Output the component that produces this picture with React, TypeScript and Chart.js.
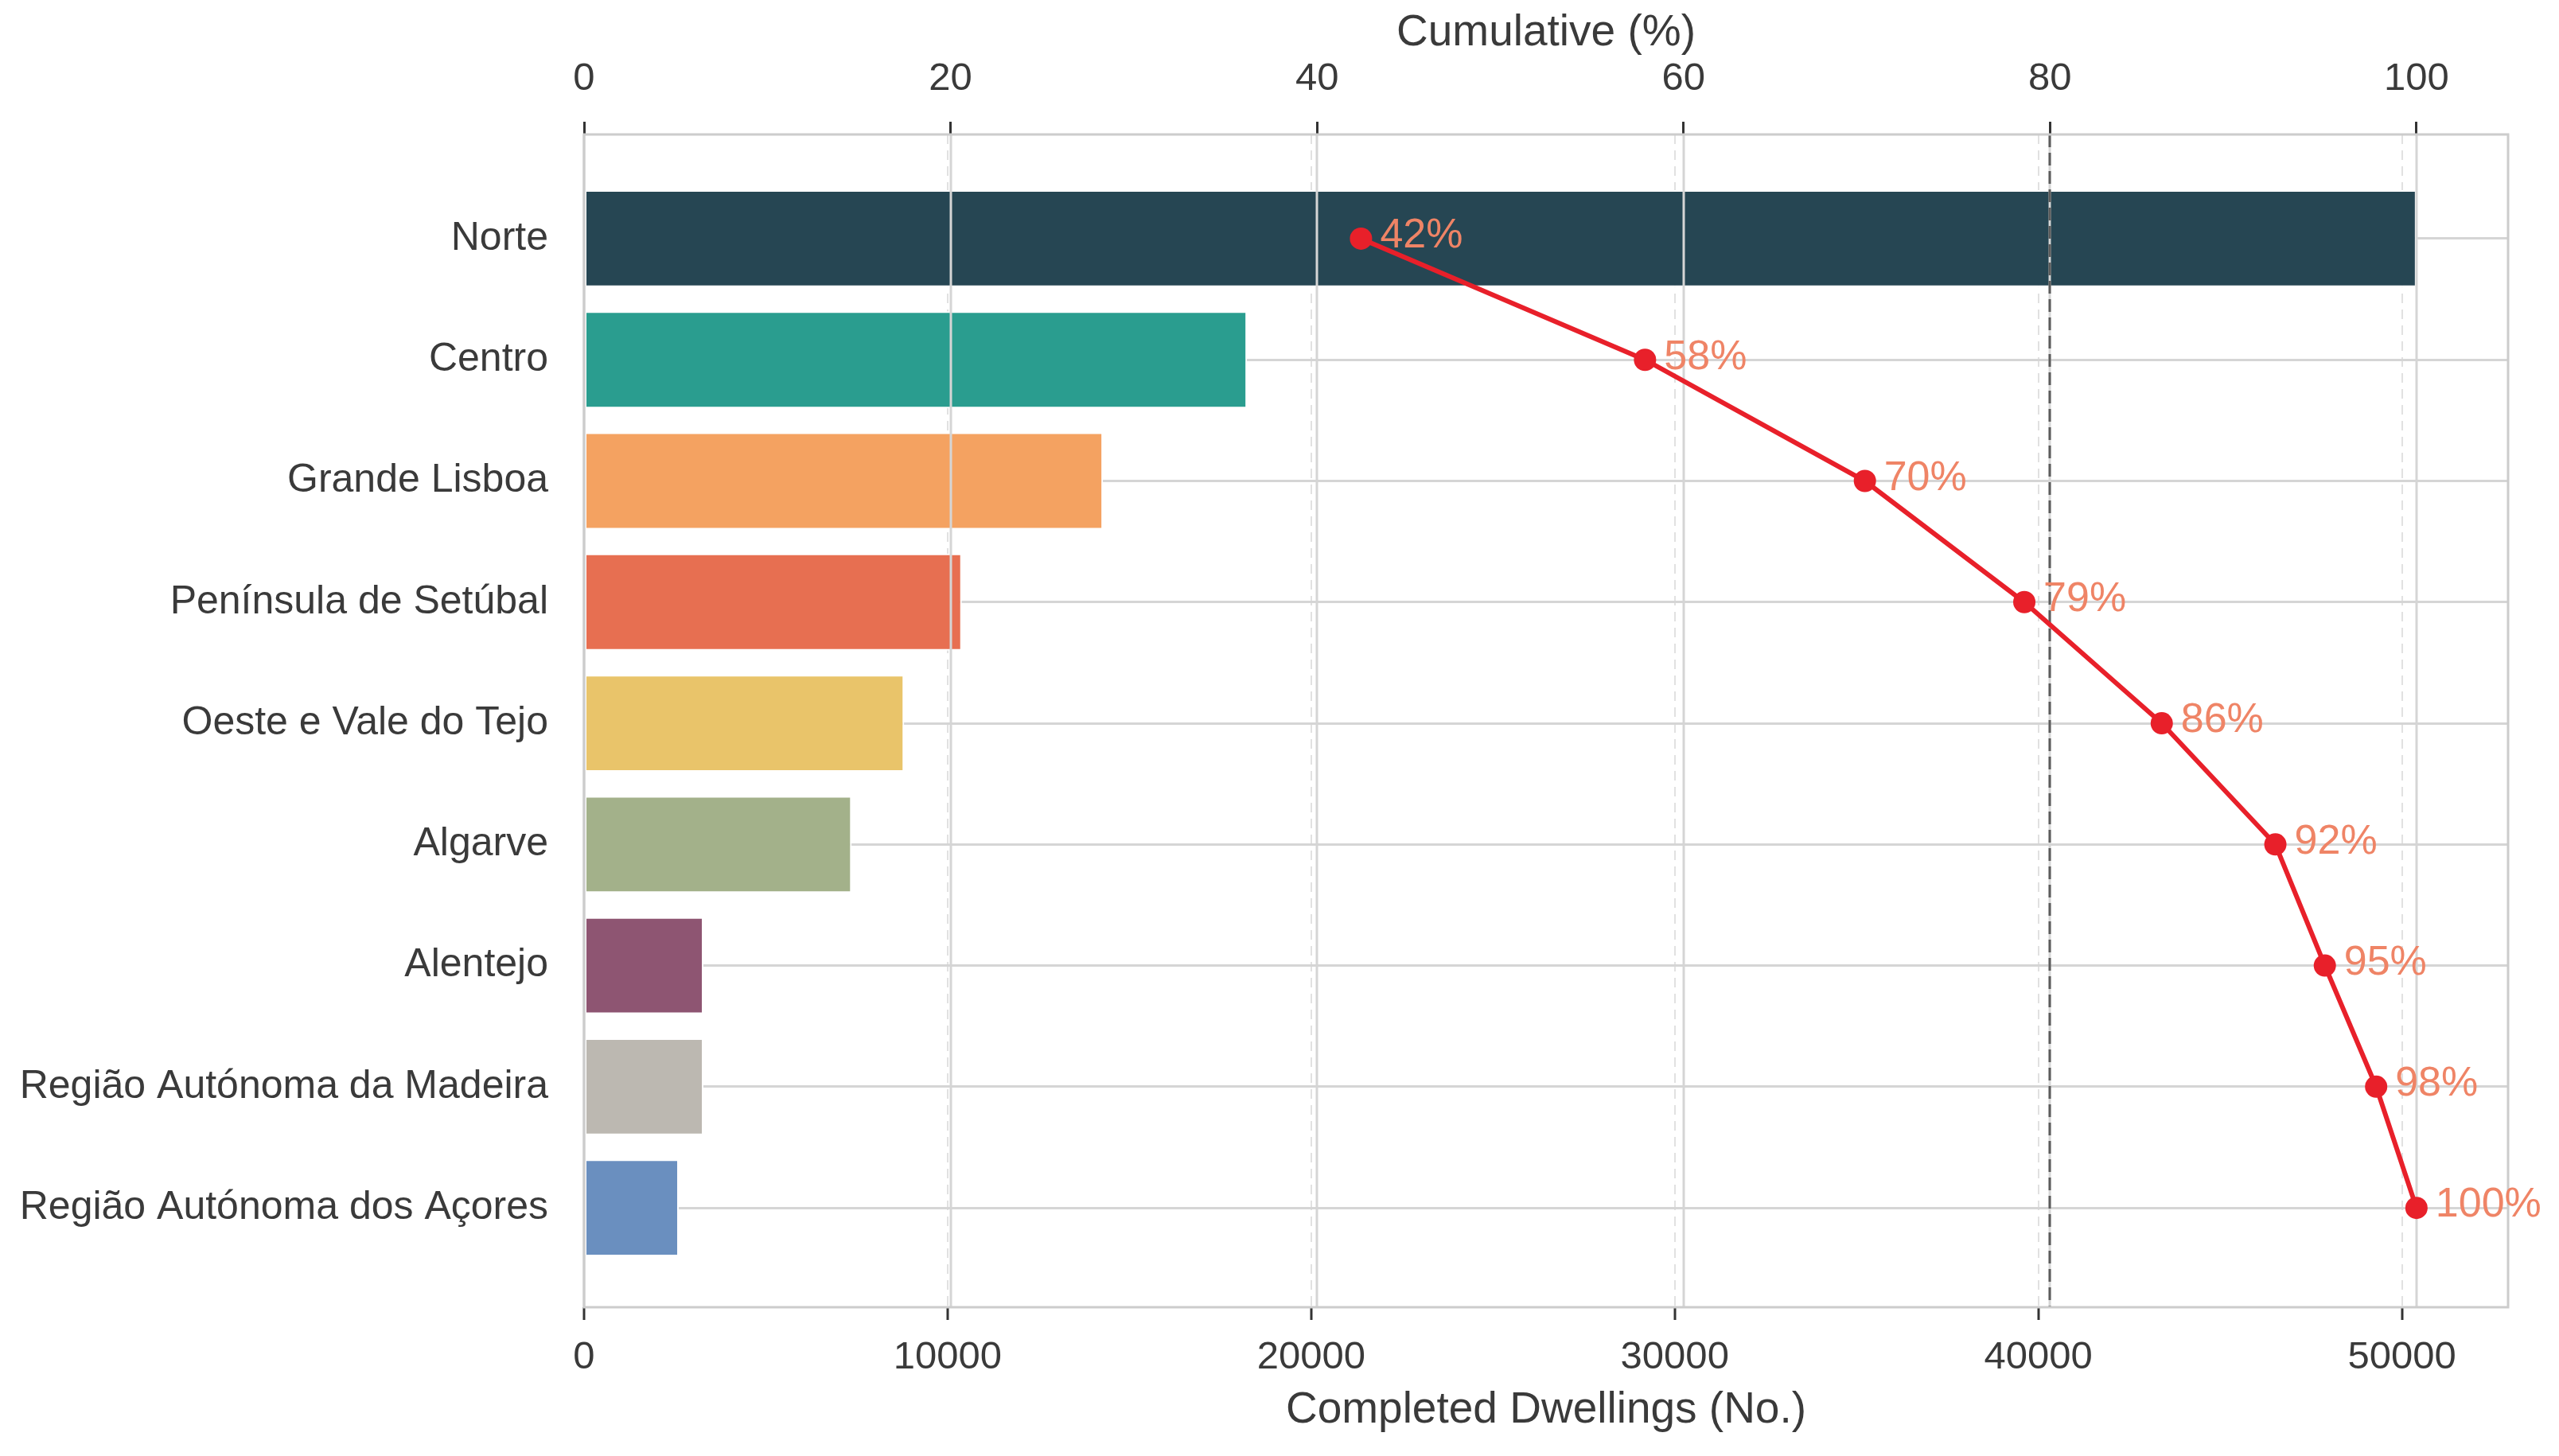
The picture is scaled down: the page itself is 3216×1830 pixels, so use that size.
import React, { useEffect, useRef } from "react";
import { Chart, registerables } from "chart.js";

Chart.register(...registerables);

const W = 3216;
const H = 1830;

// data
const REGIONS = [
  "Norte",
  "Centro",
  "Grande Lisboa",
  "Península de Setúbal",
  "Oeste e Vale do Tejo",
  "Algarve",
  "Alentejo",
  "Região Autónoma da Madeira",
  "Região Autónoma dos Açores",
];
const DWELLINGS = [50400, 18235, 14273, 10390, 8804, 7360, 3284, 3284, 2605];
const CUMULATIVE = [42.4, 57.9, 69.9, 78.6, 86.1, 92.3, 95.0, 97.8, 100];
const CUMULATIVE_LABELS = ["42%", "58%", "70%", "79%", "86%", "92%", "95%", "98%", "100%"];
const BAR_COLORS = [
  "#264653",
  "#2a9d8f",
  "#f4a261",
  "#e76f51",
  "#e9c46a",
  "#a3b18a",
  "#8e5572",
  "#bcb8b1",
  "#6a8fbf",
];
const BOTTOM_TICKS = [0, 10000, 20000, 30000, 40000, 50000];
const TOP_TICKS = [0, 20, 40, 60, 80, 100];
const THRESHOLD = 80;

const TEXT = "#3a3a3a";
const FONT = "'Liberation Sans', Arial, sans-serif";

const overlay = {
  id: "overlay",
  afterDatasetDraw(chart: any, args: any) {
    if (args.meta.type !== "bar") return;
    const { ctx, chartArea: a, scales } = chart;
    const x2 = scales.x2;
    ctx.save();
    // top-axis grid sits over the bars
    ctx.strokeStyle = "#d5d5d5";
    ctx.lineWidth = 3;
    TOP_TICKS.forEach((t) => {
      const px = Math.round(x2.getPixelForValue(t));
      ctx.beginPath();
      ctx.moveTo(px, a.top);
      ctx.lineTo(px, a.bottom);
      ctx.stroke();
    });
    // 80% reference line
    const p80 = Math.round(x2.getPixelForValue(THRESHOLD));
    ctx.strokeStyle = "#5c5c5c";
    ctx.setLineDash([16, 7]);
    ctx.beginPath();
    ctx.moveTo(p80, a.top);
    ctx.lineTo(p80, a.bottom);
    ctx.stroke();
    ctx.setLineDash([]);
    // frame
    ctx.strokeStyle = "#cccccc";
    ctx.lineWidth = 3;
    ctx.strokeRect(a.left, a.top, a.right - a.left, a.bottom - a.top);
    ctx.restore();
  },
  afterDatasetsDraw(chart: any) {
    const meta = chart.getDatasetMeta(1);
    const { ctx } = chart;
    ctx.save();
    ctx.font = `52px ${FONT}`;
    ctx.fillStyle = "#ef8466";
    ctx.textAlign = "left";
    ctx.textBaseline = "middle";
    meta.data.forEach((pt: any, i: number) => {
      ctx.fillText(CUMULATIVE_LABELS[i], pt.x + 24, pt.y - 3);
    });
    ctx.restore();
  },
};

export default function App() {
  const canvasRef = useRef<HTMLCanvasElement>(null);

  useEffect(() => {
    document.body.style.margin = "0";
    document.body.style.overflow = "hidden";
    if (!canvasRef.current) return;

    Chart.defaults.font.family = FONT;
    Chart.defaults.color = TEXT;

    const chart = new Chart(canvasRef.current, {
      type: "bar",
      data: {
        datasets: [
          {
            type: "bar",
            label: "Completed Dwellings",
            data: DWELLINGS.map((v, i) => ({ x: v, y: i })),
            backgroundColor: BAR_COLORS,
            borderColor: "#ffffff",
            borderWidth: 2,
            borderSkipped: false,
            barPercentage: 0.8,
            categoryPercentage: 1,
            xAxisID: "x",
            yAxisID: "y",
            order: 1,
          },
          {
            type: "line",
            label: "Cumulative",
            data: CUMULATIVE.map((v, i) => ({ x: v, y: i })),
            indexAxis: "y",
            borderColor: "#e8202a",
            borderWidth: 6,
            pointRadius: 14,
            pointBackgroundColor: "#e8202a",
            pointBorderWidth: 0,
            xAxisID: "x2",
            yAxisID: "y",
            order: 0,
          },
        ] as any,
      },
      options: {
        indexAxis: "y",
        animation: false,
        responsive: false,
        devicePixelRatio: 1,
        layout: { padding: { left: 0, right: 64, top: 0, bottom: 0 } },
        plugins: { legend: { display: false }, tooltip: { enabled: false } },
        scales: {
          x: {
            type: "linear",
            position: "bottom",
            min: 0,
            max: 52920,
            afterBuildTicks: (s: any) => {
              s.ticks = BOTTOM_TICKS.map((v) => ({ value: v }));
            },
            afterFit: (s: any) => {
              s.height = 187;
            },
            ticks: {
              font: { size: 49 },
              color: TEXT,
              padding: 18,
              maxRotation: 0,
              autoSkip: false,
              callback: (v: any) => String(v),
            },
            grid: {
              color: "rgba(200,200,200,0.55)",
              lineWidth: 2,
              tickColor: "#333333",
              tickWidth: 3,
              tickLength: 16,
            },
            border: { display: false, dash: [12, 8] },
            title: {
              display: true,
              text: "Completed Dwellings (No.)",
              font: { size: 55 },
              color: TEXT,
              padding: { top: 0, bottom: 24 },
            },
          },
          x2: {
            type: "linear",
            position: "top",
            min: 0,
            max: 105,
            afterBuildTicks: (s: any) => {
              s.ticks = TOP_TICKS.map((v) => ({ value: v }));
            },
            afterFit: (s: any) => {
              s.height = 169;
            },
            ticks: {
              font: { size: 49 },
              color: TEXT,
              padding: 24,
              maxRotation: 0,
              autoSkip: false,
            },
            grid: {
              drawOnChartArea: false,
              tickColor: "#333333",
              tickWidth: 3,
              tickLength: 16,
            },
            border: { display: false },
            title: {
              display: true,
              text: "Cumulative (%)",
              font: { size: 55 },
              color: TEXT,
              padding: { top: 9, bottom: 0 },
            },
          },
          y: {
            type: "linear",
            reverse: true,
            min: -0.86,
            max: 8.82,
            offset: false,
            afterBuildTicks: (s: any) => {
              s.ticks = REGIONS.map((_, i) => ({ value: i }));
            },
            afterFit: (s: any) => {
              s.width = 734;
            },
            ticks: {
              font: { size: 50 },
              color: TEXT,
              padding: 45,
              autoSkip: false,
              callback: (v: any) => REGIONS[v] ?? "",
            },
            grid: {
              offset: false,
              drawTicks: false,
              color: "#d5d5d5",
              lineWidth: 3,
            },
            border: { display: false },
          },
        },
      } as any,
      plugins: [overlay],
    });

    return () => chart.destroy();
  }, []);

  return (
    <div style={{ width: W, height: H, background: "#ffffff" }}>
      <canvas ref={canvasRef} width={W} height={H} style={{ display: "block" }} />
    </div>
  );
}
